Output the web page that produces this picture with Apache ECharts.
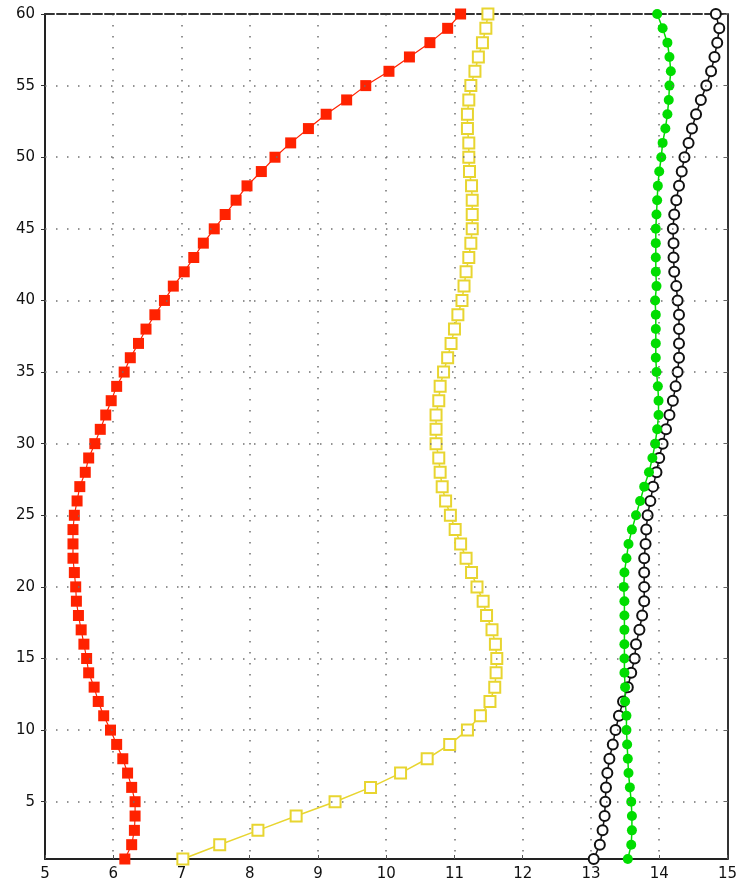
<!DOCTYPE html>
<html>
<head>
<meta charset="utf-8">
<script src="https://cdn.jsdelivr.net/npm/echarts@6/dist/echarts.min.js"></script>
<style>
html,body{margin:0;padding:0;background:#fff;}
#chart{width:740px;height:888px;}
</style>
</head>
<body>
<div id="chart"></div>
<script>
var depth = [1,2,3,4,5,6,7,8,9,10,11,12,13,14,15,16,17,18,19,20,21,22,23,24,25,26,27,28,29,30,31,32,33,34,35,36,37,38,39,40,41,42,43,44,45,46,47,48,49,50,51,52,53,54,55,56,57,58,59,60];
var redVals = [6.17,6.27,6.31,6.32,6.32,6.27,6.21,6.14,6.05,5.96,5.86,5.78,5.72,5.64,5.61,5.57,5.53,5.49,5.46,5.45,5.43,5.41,5.41,5.41,5.43,5.47,5.51,5.59,5.64,5.73,5.81,5.89,5.97,6.05,6.16,6.25,6.37,6.48,6.61,6.75,6.88,7.04,7.18,7.32,7.48,7.64,7.80,7.96,8.17,8.37,8.60,8.86,9.12,9.42,9.70,10.04,10.34,10.64,10.90,11.09];
var yellowVals = [7.02,7.56,8.12,8.68,9.25,9.77,10.21,10.60,10.93,11.19,11.38,11.52,11.59,11.61,11.62,11.60,11.55,11.47,11.42,11.33,11.25,11.17,11.09,11.01,10.94,10.87,10.82,10.79,10.77,10.73,10.73,10.73,10.77,10.79,10.84,10.90,10.95,11.00,11.05,11.11,11.14,11.17,11.21,11.24,11.26,11.26,11.26,11.25,11.22,11.21,11.21,11.19,11.19,11.21,11.24,11.30,11.35,11.41,11.46,11.49];
var greenVals = [13.54,13.59,13.60,13.60,13.59,13.57,13.55,13.54,13.53,13.52,13.52,13.50,13.50,13.49,13.49,13.49,13.49,13.49,13.49,13.48,13.49,13.52,13.55,13.60,13.66,13.72,13.78,13.85,13.90,13.94,13.97,13.99,13.99,13.98,13.96,13.95,13.95,13.95,13.95,13.94,13.96,13.95,13.95,13.95,13.95,13.96,13.97,13.98,14.00,14.03,14.05,14.09,14.12,14.14,14.15,14.17,14.15,14.12,14.05,13.97];
var blackVals = [13.04,13.13,13.17,13.20,13.21,13.22,13.24,13.27,13.32,13.36,13.41,13.47,13.54,13.59,13.64,13.66,13.71,13.75,13.78,13.78,13.78,13.78,13.80,13.81,13.83,13.87,13.91,13.96,14.00,14.05,14.10,14.15,14.20,14.24,14.27,14.29,14.29,14.29,14.29,14.27,14.25,14.22,14.21,14.21,14.20,14.22,14.25,14.29,14.33,14.37,14.43,14.48,14.54,14.61,14.69,14.76,14.81,14.85,14.88,14.83];
var yTicks = [5,10,15,20,25,30,35,40,45,50,55,60];
var yGrid = [5,10,15,20,25,30,35,40,45,50,55];

function pairs(vals){ return vals.map(function(v,i){ return [v, depth[i]]; }); }

var font = 'DejaVu Sans';
var gridStyle = {color:'#707070', type:[1.5,9.5], width:1.5};
var chart = echarts.init(document.getElementById('chart'), null, {renderer:'canvas'});
var option = {
  backgroundColor:'#ffffff',
  animation:false,
  grid:{left:45, right:12, top:14, bottom:29, containLabel:false},
  xAxis:[{
    type:'value', min:5, max:15, interval:1, position:'bottom',
    axisLine:{show:true, lineStyle:{color:'#222', width:2}},
    axisTick:{show:true, inside:true, length:4, lineStyle:{color:'#555'}},
    axisLabel:{color:'#111', fontFamily:font, fontSize:15, margin:8},
    splitLine:{show:true, lineStyle:gridStyle}
  },{
    type:'value', min:5, max:15, interval:1, position:'top',
    axisLine:{show:true, onZero:false, lineStyle:{color:'#333', width:2, type:[9,3]}},
    axisTick:{show:false}, axisLabel:{show:false}, splitLine:{show:false}
  }],
  yAxis:[{
    type:'value', min:1, max:60,
    axisLine:{show:true, onZero:false, lineStyle:{color:'#222', width:2}},
    axisTick:{show:true, customValues:yTicks, length:4, lineStyle:{color:'#333'}},
    axisLabel:{customValues:yTicks, color:'#111', fontFamily:font, fontSize:15, margin:10},
    splitLine:{show:false}
  },{
    type:'value', min:1, max:60, position:'right',
    axisLine:{show:true, onZero:false, lineStyle:{color:'#333', width:2}},
    axisTick:{show:true, inside:true, customValues:yTicks, length:4, lineStyle:{color:'#666'}},
    axisLabel:{show:false}, splitLine:{show:false}
  }],
  series:[
    {
      name:'red', type:'line', xAxisIndex:0, yAxisIndex:0, data:pairs(redVals),
      symbol:'rect', symbolSize:11, showAllSymbol:true,
      lineStyle:{color:'#ff2200', width:1.2},
      itemStyle:{color:'#ff2200'},
      markLine:{
        silent:true, symbol:['none','none'], label:{show:false},
        lineStyle:gridStyle,
        data: yGrid.map(function(v){ return {yAxis:v}; })
      }
    },
    {
      name:'yellow', type:'line', xAxisIndex:0, yAxisIndex:0, data:pairs(yellowVals),
      symbol:'emptyRect', symbolSize:11, showAllSymbol:true,
      lineStyle:{color:'#e8d530', width:1.5},
      itemStyle:{color:'#e8d530', borderWidth:2}
    },
    {
      name:'black', type:'line', xAxisIndex:0, yAxisIndex:0, data:pairs(blackVals),
      symbol:'emptyCircle', symbolSize:10, showAllSymbol:true,
      lineStyle:{color:'#111', width:1.5},
      itemStyle:{color:'#111', borderWidth:1.6}
    },
    {
      name:'green', type:'line', xAxisIndex:0, yAxisIndex:0, data:pairs(greenVals),
      symbol:'circle', symbolSize:10, showAllSymbol:true,
      lineStyle:{color:'#00dd00', width:1.5},
      itemStyle:{color:'#00dd00'}
    }
  ]
};
chart.setOption(option);
</script>
</body>
</html>
